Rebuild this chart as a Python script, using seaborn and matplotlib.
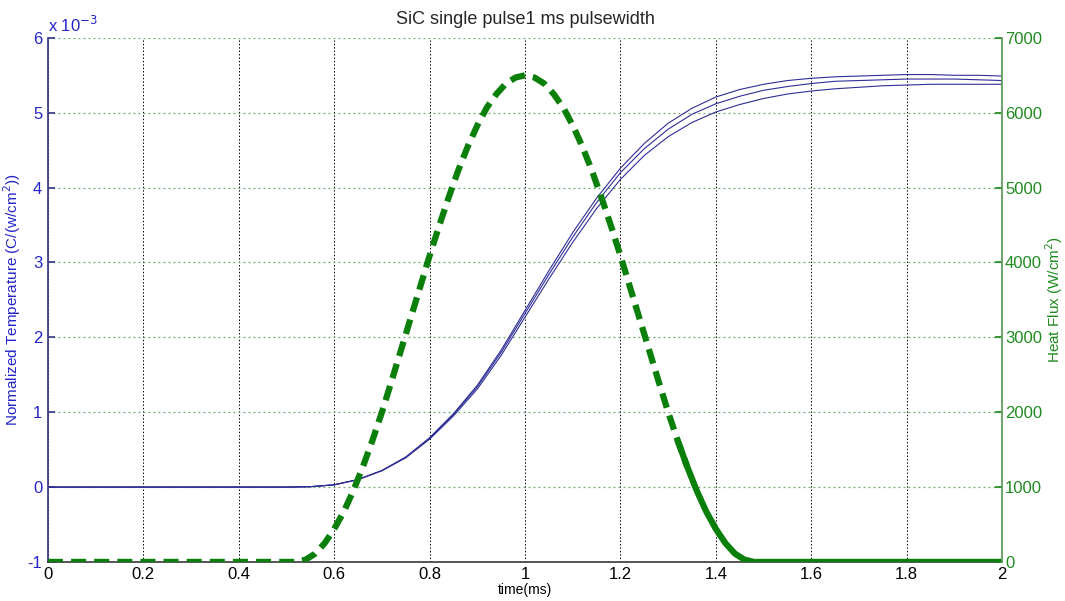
import seaborn as sns
import matplotlib.pyplot as plt
import numpy as np
import pandas as pd

# heat flux pulse (W/cm^2)
flux_grid = np.round(np.arange(0.52, 1.4801, 0.02), 2)
flux_rise = [0, 30, 110, 250, 440, 670, 950, 1270, 1620, 2000, 2410, 2830,
             3250, 3670, 4090, 4490, 4870, 5230, 5550, 5830, 6070, 6250,
             6390, 6470]
flux_vals = flux_rise + [6500] + flux_rise[::-1]
flux_t = [0.0] + list(flux_grid) + [2.0]
flux_w = [0] + flux_vals + [0]

# normalized temperature (x 10^-3), three runs
temp_grid = np.round(np.arange(0.55, 2.0001, 0.05), 2)
temp_t = [0.0, 0.5] + list(temp_grid)
temp_mid = [0, 0, 0.005, 0.03, 0.10, 0.22, 0.40, 0.65, 0.97, 1.34, 1.80, 2.32,
            2.84, 3.34, 3.80, 4.20, 4.52, 4.78, 4.98, 5.12, 5.22, 5.30, 5.35,
            5.39, 5.42, 5.43, 5.44, 5.45, 5.45, 5.45, 5.44, 5.43]
temp_up = [0, 0, 0.005, 0.03, 0.10, 0.22, 0.40, 0.66, 0.98, 1.36, 1.83, 2.36,
           2.89, 3.40, 3.86, 4.26, 4.59, 4.86, 5.06, 5.21, 5.31, 5.38, 5.43,
           5.46, 5.48, 5.49, 5.50, 5.51, 5.51, 5.50, 5.50, 5.49]
temp_lo = [0, 0, 0.005, 0.03, 0.10, 0.22, 0.39, 0.64, 0.95, 1.31, 1.76, 2.27,
           2.78, 3.27, 3.72, 4.11, 4.43, 4.68, 4.87, 5.01, 5.11, 5.19, 5.25,
           5.29, 5.32, 5.34, 5.36, 5.37, 5.38, 5.38, 5.38, 5.38]

x_ticks = [0, 0.2, 0.4, 0.6, 0.8, 1, 1.2, 1.4, 1.6, 1.8, 2]
x_labels = ['0', '0.2', '0.4', '0.6', '0.8', '1', '1.2', '1.4', '1.6', '1.8', '2']
left_ticks = [-1, 0, 1, 2, 3, 4, 5, 6]
right_ticks = [0, 1000, 2000, 3000, 4000, 5000, 6000, 7000]

blue = '#2424c8'
green = '#1f8a1f'
line_blue = '#2e2e96'

sns.set_theme(style='white')
plt.rcParams['font.family'] = ['Liberation Sans', 'DejaVu Sans']
plt.rcParams['axes.unicode_minus'] = False

temp = pd.DataFrame({
    't': temp_t * 3,
    'val': temp_up + temp_mid + temp_lo,
    'run': ['up'] * len(temp_t) + ['mid'] * len(temp_t) + ['lo'] * len(temp_t),
})
flux = pd.DataFrame({'t': flux_t, 'w': flux_w})

fig = plt.figure(figsize=(10.65, 6.01), dpi=100)
ax = fig.add_axes([0.045, 0.065, 0.896, 0.872])
ax2 = ax.twinx()

sns.lineplot(data=temp, x='t', y='val', hue='run', palette=[line_blue] * 3,
             estimator=None, sort=False, linewidth=0.8, legend=False, ax=ax)

dashed = flux[flux['t'] <= 1.34]
solid = flux[flux['t'] >= 1.32]
sns.lineplot(data=dashed, x='t', y='w', color='#0a800a', linewidth=4.5,
             linestyle=(0, (2.4, 1.3)), estimator=None, sort=False, ax=ax2)
sns.lineplot(data=solid, x='t', y='w', color='#0a800a', linewidth=4.5,
             estimator=None, sort=False, ax=ax2)

ax.set_xlim(0, 2)
ax.set_ylim(-1, 6)
ax2.set_ylim(0, 7000)
ax.set_xticks(x_ticks)
ax.set_xticklabels(x_labels)
ax.set_yticks(left_ticks)
ax2.set_yticks(right_ticks)

ax.grid(True, axis='x', color='black', linestyle=(0, (1.5, 2)), linewidth=0.7)
ax.grid(True, axis='y', color='#6fa86f', linestyle=(0, (1.5, 2.5)), linewidth=0.9)
ax2.grid(False)

ax.tick_params(axis='x', direction='in', length=5, colors='#333333',
               labelcolor='black', labelsize=12, pad=4)
ax.tick_params(axis='y', direction='in', length=5, colors='#3a3a8c',
               labelcolor=blue, labelsize=12, pad=4)
ax2.tick_params(axis='y', direction='in', length=5, colors=green,
                labelcolor=green, labelsize=12, pad=2)

for a in (ax, ax2):
    a.spines['top'].set_visible(False)
ax.spines['left'].set_color('#3a3a8c')
ax.spines['bottom'].set_color('#404040')
ax.spines['right'].set_visible(False)
ax2.spines['left'].set_visible(False)
ax2.spines['bottom'].set_visible(False)
ax2.spines['right'].set_color('#5a9a5a')

ax.set_xlabel('time(ms)', fontsize=10, color='black')
ax.xaxis.set_label_coords(0.5, -0.041)
ax.set_ylabel('Normalized Temperature (C/(w/cm$^2$))', fontsize=11, color=blue)
ax.yaxis.set_label_coords(-0.026, 0.5)
ax2.set_ylabel('Heat Flux (W/cm$^2$)', fontsize=11, color=green)
ax2.yaxis.set_label_coords(1.043, 0.5)
ax.set_title('SiC single pulse1 ms pulsewidth', fontsize=13, pad=10)
ax.text(0.0, 1.005, 'x 10$^{-3}$', transform=ax.transAxes, color=blue,
        fontsize=12, ha='left', va='bottom')

fig.savefig('out.png', dpi=100)
